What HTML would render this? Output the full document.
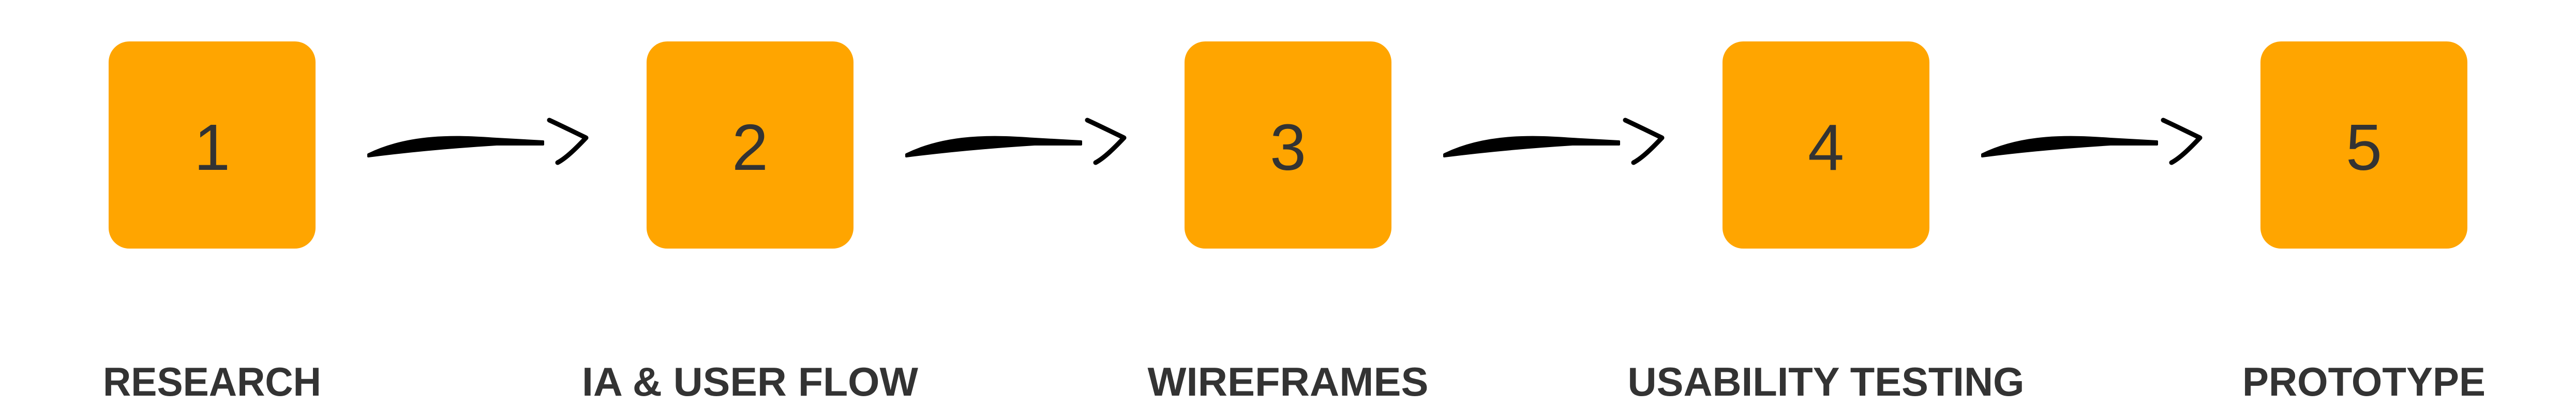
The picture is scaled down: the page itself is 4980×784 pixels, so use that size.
<!DOCTYPE html>
<html><head><meta charset="utf-8"><style>
html,body{margin:0;padding:0;background:#fff;}
svg{display:block;}
</style></head><body>
<svg width="4980" height="784" viewBox="0 0 4980 784" xmlns="http://www.w3.org/2000/svg">
<g id="root"></g>
</svg>
<script>
const steps = ["1","2","3","4","5"];
const labels = ["RESEARCH","IA & USER FLOW","WIREFRAMES","USABILITY TESTING","PROTOTYPE"];
const labelWidths = [422,650,543,767,470];
const NS="http://www.w3.org/2000/svg";
const root=document.getElementById('root');
function mk(tag,attrs){const e=document.createElementNS(NS,tag);for(const k in attrs)e.setAttribute(k,attrs[k]);root.appendChild(e);return e;}
steps.forEach((s,i)=>{
  const x=210+i*1040;
  const r=mk('rect',{x:x,y:80,width:400,height:400,rx:40,ry:40,fill:'#FFA500'});
  
  
  const t=mk('text',{x:x+200,y:328,'text-anchor':'middle','font-family':'Liberation Sans, sans-serif','font-size':126,fill:'#333'});
  t.textContent=s;
  
  
  const l=mk('text',{x:x+200,y:764,'text-anchor':'middle','font-family':'Liberation Sans, sans-serif','font-weight':'bold','font-size':78,fill:'#333',textLength:labelWidths[i],lengthAdjust:'spacingAndGlyphs'});
  l.textContent=labels[i];
  
  
  if(i<steps.length-1){
    const o=i*1040;
    const p=mk('path',{d:`M${712+o},298 C${790+o},260 ${880+o},262 ${960+o},268 L${1050+o},273 L${1050+o},279 L${960+o},279 C${880+o},284 ${790+o},292 ${712+o},302 Z`,fill:'#000',stroke:'#000','stroke-width':4,'stroke-linejoin':'round'});
    
    
    const h=mk('path',{d:`M${1062+o},232 C${1090+o},245 ${1110+o},255 ${1133+o},266 C${1115+o},285 ${1095+o},305 ${1078+o},314`,fill:'none',stroke:'#000','stroke-width':9,'stroke-linecap':'round','stroke-linejoin':'round'});
    
    
  }
});
</script>
</body></html>
